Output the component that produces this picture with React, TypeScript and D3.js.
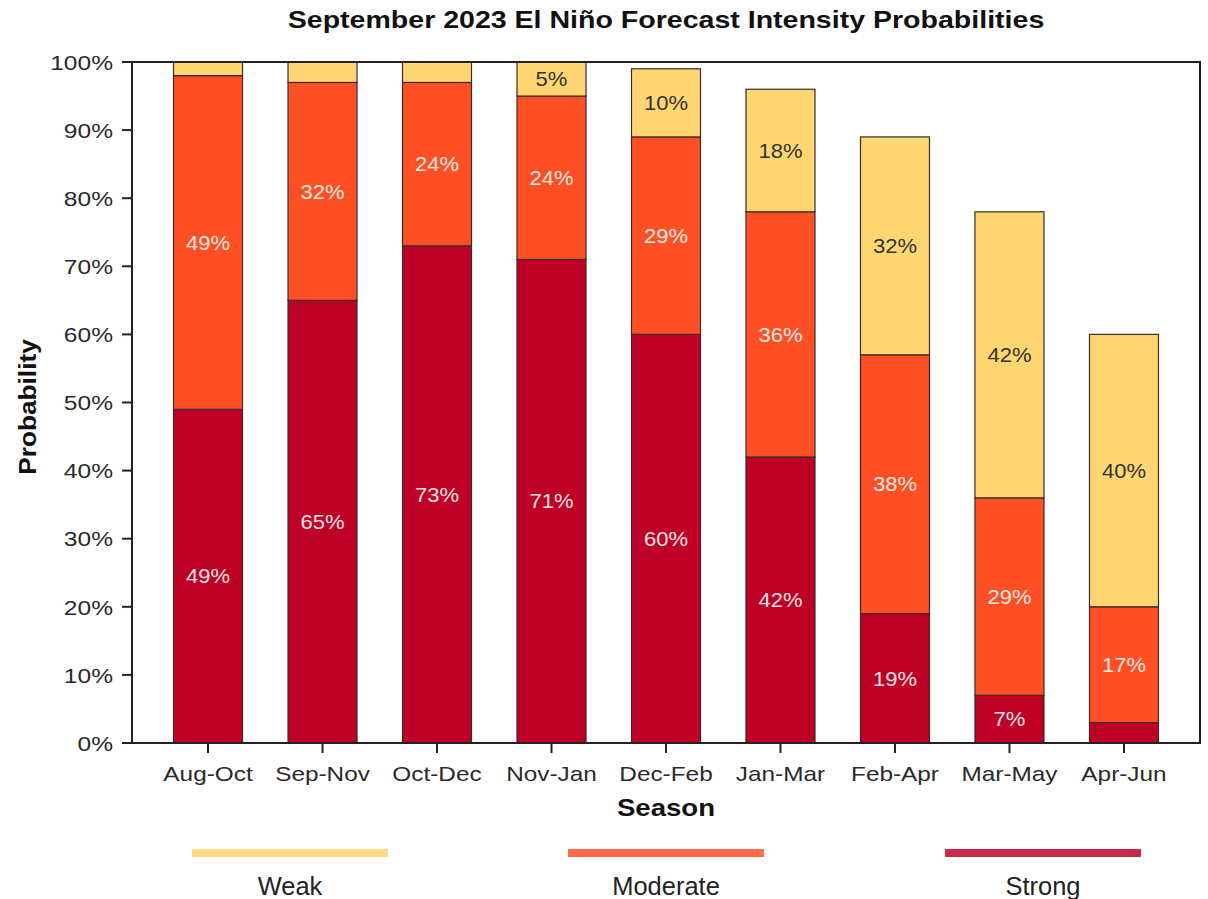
import React from "react";
import * as d3 from "d3";

const seasons = ["Aug-Oct", "Sep-Nov", "Oct-Dec", "Nov-Jan", "Dec-Feb", "Jan-Mar", "Feb-Apr", "Mar-May", "Apr-Jun"];
const strong = [49, 65, 73, 71, 60, 42, 19, 7, 3];
const moderate = [49, 32, 24, 24, 29, 36, 38, 29, 17];
const weak = [2, 3, 3, 5, 10, 18, 32, 42, 40];
const yTicks = [0, 10, 20, 30, 40, 50, 60, 70, 80, 90, 100];

const W = 1208, H = 899;
const left = 132, right = 1200, top = 62, bottom = 743;
const font = "'Liberation Sans', Arial, sans-serif";

function T(props: { x: number; y: number; sx?: number; rot?: number; anchor?: string; size: number; bold?: boolean; fill?: string; dy?: string; children: any }) {
  const { x, y, sx = 1, rot = 0, anchor = "middle", size, bold, fill = "#222", dy, children } = props;
  return (
    <text
      transform={`translate(${x},${y}) rotate(${rot}) scale(${sx},1)`}
      textAnchor={anchor}
      fontSize={size}
      fontWeight={bold ? "bold" : "normal"}
      fill={fill}
      dy={dy}
    >
      {children}
    </text>
  );
}

export default function App() {
  const x = d3.scalePoint<string>().domain(seasons).range([left, right]).padding(0.664);
  const y = d3.scaleLinear().domain([0, 100]).range([bottom, top]);
  const bw = 69;
  const series = [
    { name: "Strong", values: strong, fill: "#BE0026", legend: "#C92A4B", text: "#F7E3E3" },
    { name: "Moderate", values: moderate, fill: "#FF4F25", legend: "#FF6A48", text: "#FDE9E2" },
    { name: "Weak", values: weak, fill: "#FFD671", legend: "#FFDA85", text: "#333333" },
  ];
  const stacks = seasons.map((_, i) => {
    let acc = 0;
    return series.map((s) => {
      const y0 = acc;
      acc += s.values[i];
      return { y0, y1: acc, v: s.values[i], s };
    });
  });
  const legendItems = [series[2], series[1], series[0]];
  const legendCenters = [290, 666, 1043];
  return (
    <svg width={W} height={H} style={{ display: "block", position: "absolute", left: 0, top: 0 }} fontFamily={font}>
      <rect width={W} height={H} fill="#fff" />
      <T x={(left + right) / 2} y={28} size={24} bold sx={1.19} fill="#111">
        September 2023 El Niño Forecast Intensity Probabilities
      </T>
      {stacks.map((st, i) =>
        st.map((seg, j) => (
          <g key={`${i}-${j}`}>
            <rect x={x(seasons[i])! - bw / 2} y={y(seg.y1)} width={bw} height={y(seg.y0) - y(seg.y1)} fill={seg.s.fill} stroke="#3a2a2a" strokeWidth={1.2} />
            {seg.v >= 5 && (
              <T x={x(seasons[i])!} y={y((seg.y0 + seg.y1) / 2)} dy="0.36em" size={20} sx={1.1} fill={seg.s.text}>
                {seg.v}%
              </T>
            )}
          </g>
        ))
      )}
      <rect x={left} y={top} width={right - left} height={bottom - top} fill="none" stroke="#222" strokeWidth={2} />
      {yTicks.map((t) => (
        <g key={t}>
          <line x1={left - 10} x2={left} y1={y(t)} y2={y(t)} stroke="#222" strokeWidth={2} />
          <T x={113} y={y(t)} dy="0.37em" anchor="end" size={21} sx={1.17} fill="#2a2a2a">{t}%</T>
        </g>
      ))}
      {seasons.map((s) => (
        <g key={s}>
          <line x1={x(s)!} x2={x(s)!} y1={bottom} y2={bottom + 10} stroke="#222" strokeWidth={2} />
          <T x={x(s)!} y={781} size={21} sx={1.16} fill="#2a2a2a">{s}</T>
        </g>
      ))}
      <T x={(left + right) / 2} y={816} size={23} bold sx={1.2} fill="#111">Season</T>
      <T x={36} y={407} rot={-90} size={23} bold sx={1.14} fill="#111">Probability</T>
      {legendItems.map((s, i) => (
        <g key={s.name}>
          <line x1={legendCenters[i] - 98} x2={legendCenters[i] + 98} y1={853} y2={853} stroke={s.legend} strokeWidth={8} />
          <T x={legendCenters[i]} y={895} size={26} sx={0.98} fill="#222">{s.name}</T>
        </g>
      ))}
    </svg>
  );
}
